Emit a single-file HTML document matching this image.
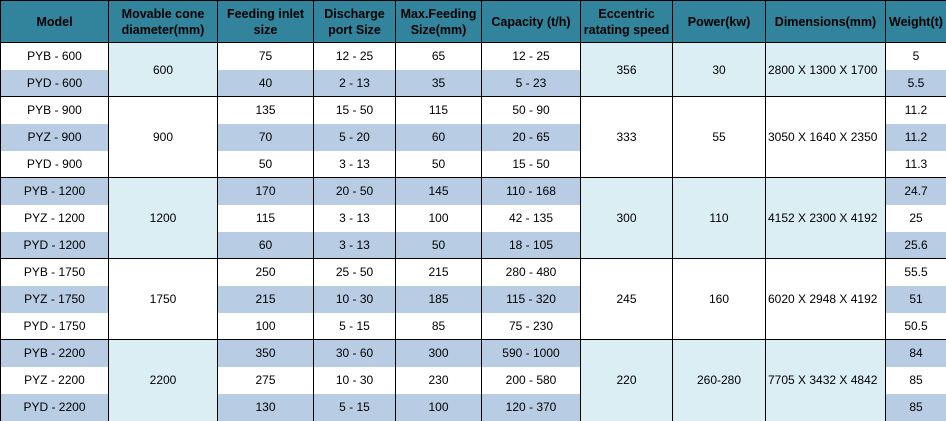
<!DOCTYPE html>
<html><head><meta charset="utf-8"><style>
html,body{margin:0;padding:0;background:#fff;overflow:hidden;}
table{border-collapse:collapse;table-layout:fixed;width:946px;font-family:"Liberation Sans",sans-serif;font-size:12px;color:#000;}
td,th{padding:0;text-align:center;border-left:1px solid #000;border-right:1px solid #000;height:27px;line-height:14px;white-space:nowrap;overflow:hidden;box-sizing:border-box;}
th{background:#31849b;font-weight:bold;height:42px;border:1px solid #000;line-height:16px;font-size:12.5px;}
tbody{border-top:1px solid #000;}
tr.b td{background:#b8cce4;}
td.l{background:#daeef3 !important;}
td.w{background:#fff !important;}
td.d{text-align:left;padding-left:2px;}
</style></head><body>
<table>
<colgroup><col style="width:108px"><col style="width:109px"><col style="width:96px"><col style="width:82px"><col style="width:86px"><col style="width:99px"><col style="width:92px"><col style="width:93px"><col style="width:120px"><col style="width:61px"></colgroup>
<thead><tr><th>Model</th><th>Movable cone<br>diameter(mm)</th><th>Feeding inlet<br>size</th><th>Discharge<br>port Size</th><th>Max.Feeding<br>Size(mm)</th><th>Capacity (t/h)</th><th>Eccentric<br>ratating speed</th><th>Power(kw)</th><th>Dimensions(mm)</th><th>Weight(t)</th></tr></thead>
<tbody>
<tr><td>PYB - 600</td><td rowspan="2" class="l">600</td><td>75</td><td>12 - 25</td><td>65</td><td>12 - 25</td><td rowspan="2" class="l">356</td><td rowspan="2" class="l">30</td><td rowspan="2" class="l d">2800 X 1300 X 1700</td><td>5</td></tr>
<tr class="b"><td>PYD - 600</td><td>40</td><td>2 - 13</td><td>35</td><td>5 - 23</td><td>5.5</td></tr>
</tbody>
<tbody>
<tr><td>PYB - 900</td><td rowspan="3" class="w">900</td><td>135</td><td>15 - 50</td><td>115</td><td>50 - 90</td><td rowspan="3" class="w">333</td><td rowspan="3" class="w">55</td><td rowspan="3" class="w d">3050 X 1640 X 2350</td><td>11.2</td></tr>
<tr class="b"><td>PYZ - 900</td><td>70</td><td>5 - 20</td><td>60</td><td>20 - 65</td><td>11.2</td></tr>
<tr><td>PYD - 900</td><td>50</td><td>3 - 13</td><td>50</td><td>15 - 50</td><td>11.3</td></tr>
</tbody>
<tbody>
<tr class="b"><td>PYB - 1200</td><td rowspan="3" class="l">1200</td><td>170</td><td>20 - 50</td><td>145</td><td>110 - 168</td><td rowspan="3" class="l">300</td><td rowspan="3" class="l">110</td><td rowspan="3" class="l d">4152 X 2300 X 4192</td><td>24.7</td></tr>
<tr><td>PYZ - 1200</td><td>115</td><td>3 - 13</td><td>100</td><td>42 - 135</td><td>25</td></tr>
<tr class="b"><td>PYD - 1200</td><td>60</td><td>3 - 13</td><td>50</td><td>18 - 105</td><td>25.6</td></tr>
</tbody>
<tbody>
<tr><td>PYB - 1750</td><td rowspan="3" class="w">1750</td><td>250</td><td>25 - 50</td><td>215</td><td>280 - 480</td><td rowspan="3" class="w">245</td><td rowspan="3" class="w">160</td><td rowspan="3" class="w d">6020 X 2948 X 4192</td><td>55.5</td></tr>
<tr class="b"><td>PYZ - 1750</td><td>215</td><td>10 - 30</td><td>185</td><td>115 - 320</td><td>51</td></tr>
<tr><td>PYD - 1750</td><td>100</td><td>5 - 15</td><td>85</td><td>75 - 230</td><td>50.5</td></tr>
</tbody>
<tbody>
<tr class="b"><td>PYB - 2200</td><td rowspan="3" class="l">2200</td><td>350</td><td>30 - 60</td><td>300</td><td>590 - 1000</td><td rowspan="3" class="l">220</td><td rowspan="3" class="l">260-280</td><td rowspan="3" class="l d">7705 X 3432 X 4842</td><td>84</td></tr>
<tr><td>PYZ - 2200</td><td>275</td><td>10 - 30</td><td>230</td><td>200 - 580</td><td>85</td></tr>
<tr class="b"><td>PYD - 2200</td><td>130</td><td>5 - 15</td><td>100</td><td>120 - 370</td><td>85</td></tr>
</tbody>
</table>
</body></html>
